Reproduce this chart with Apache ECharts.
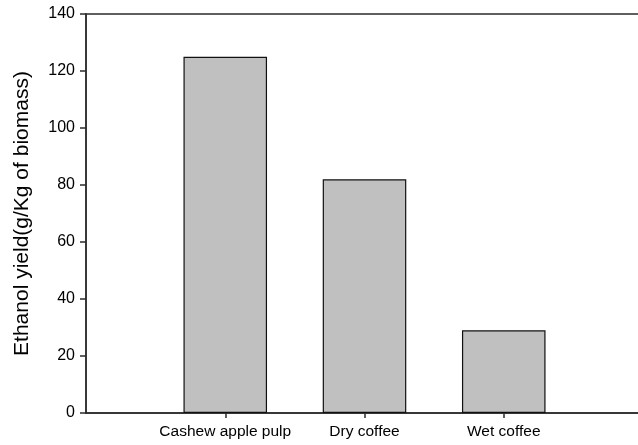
<!DOCTYPE html>
<html>
<head>
<meta charset="utf-8">
<script src="https://cdn.jsdelivr.net/npm/echarts@6/dist/echarts.min.js"></script>
<style>
  html, body { margin: 0; padding: 0; background: #fff; }
  #chart { width: 638px; height: 445px; }
</style>
</head>
<body>
<div id="chart"></div>
<script>
// blank slots at both ends keep the bars where the original plot puts them
let categories = ['', 'Cashew apple pulp', 'Dry coffee', 'Wet coffee', ''];
let ethanolYield = [null, 125, 82, 29, null];
let yTicks = [0, 20, 40, 60, 80, 100, 120, 140];

let myChart = echarts.init(document.getElementById('chart'));
let option = {
    animation: false,
    grid: {
        left: 86,
        width: 557,
        top: 14,
        bottom: 32,
        outerBoundsMode: 'none',
        show: true,
        borderColor: '#2b2b2b',
        borderWidth: 1.5
    },
    xAxis: {
        type: 'category',
        data: categories,
        boundaryGap: false,
        axisLine: { lineStyle: { color: '#2b2b2b', width: 1.5 } },
        axisTick: {
            length: 5,
            interval: function (index, value) { return value !== ''; },
            lineStyle: { color: '#2b2b2b', width: 1.5 }
        },
        axisLabel: {
            interval: 0,
            margin: 11,
            fontFamily: 'Liberation Sans',
            fontSize: 15.5,
            color: '#000'
        },
        splitLine: { show: false }
    },
    yAxis: {
        type: 'value',
        min: yTicks[0],
        max: yTicks[yTicks.length - 1],
        interval: 20,
        name: 'Ethanol yield(g/Kg of biomass)',
        nameLocation: 'middle',
        nameGap: 53,
        nameTextStyle: {
            fontFamily: 'Liberation Sans',
            fontSize: 21,
            color: '#000'
        },
        axisLine: { show: true, lineStyle: { color: '#2b2b2b', width: 1.5 } },
        axisTick: { show: true, length: 6, lineStyle: { color: '#2b2b2b', width: 1.5 } },
        axisLabel: {
            margin: 11,
            fontFamily: 'Liberation Sans',
            fontSize: 16,
            color: '#000'
        },
        splitLine: { show: false }
    },
    series: [{
        type: 'bar',
        data: ethanolYield,
        barWidth: '60%',
        itemStyle: {
            color: '#c0c0c0',
            borderColor: '#111',
            borderWidth: 1.2
        }
    }]
};
myChart.setOption(option);
</script>
</body>
</html>
